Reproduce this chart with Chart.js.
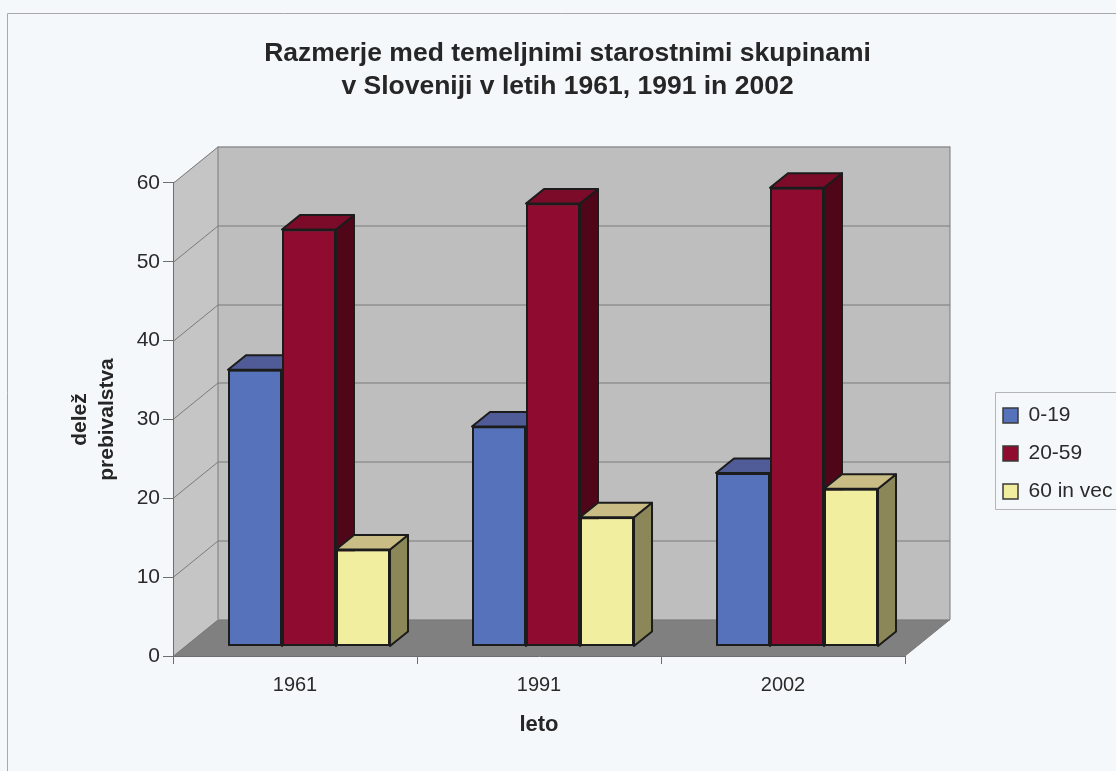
<!DOCTYPE html>
<html><head><meta charset="utf-8">
<script src="https://cdn.jsdelivr.net/npm/chart.js@4"></script>
<style>html,body{margin:0;padding:0;background:#f5f8fa}canvas{display:block}</style>
</head><body>
<canvas id="c" width="1116" height="771" style="width:1116px;height:771px"></canvas>
<script>
const categories = ['1961', '1991', '2002'];
const young = [35.1, 27.9, 22.0];
const working = [52.9, 56.2, 58.2];
const old = [12.3, 16.4, 20.0];
const seriesNames = ['0-19', '20-59', '60 in vec'];
const titleLines = ['Razmerje med temeljnimi starostnimi skupinami', 'v Sloveniji v letih 1961, 1991 in 2002'];
const yTicks = [0, 10, 20, 30, 40, 50, 60];

const FONT = '"Liberation Sans", Arial, sans-serif';
const TEXT = '#2a2a2a';
const AXIS = '#6e6e6e';
const WALL = {dx: 45, dy: 36.5};
const BAR = {shiftX: 14, shiftY: 9.5, dx: 18, dy: 14.5};
const faces = [
  {front: '#5572bb', top: '#4f5c98', side: '#2c3a70'},
  {front: '#8f0b2f', top: '#7c0a29', side: '#4f0619'},
  {front: '#f1ee9f', top: '#c9bd85', side: '#8b8759'}
];

function poly(ctx, pts, fill, stroke, lw) {
  ctx.beginPath();
  pts.forEach((p, i) => i ? ctx.lineTo(p[0], p[1]) : ctx.moveTo(p[0], p[1]));
  ctx.closePath();
  if (fill) { ctx.fillStyle = fill; ctx.fill(); }
  if (stroke) { ctx.strokeStyle = stroke; ctx.lineWidth = lw; ctx.lineJoin = 'round'; ctx.stroke(); }
}

const scene = {
  id: 'scene',
  afterLayout(chart) {
    const t = chart.titleBlock;
    t.left = 0; t.right = 1135; t.top = 37; t.bottom = 103;
    const l = chart.legend;
    l.left = 986; l.right = 1116; l.top = 388; l.bottom = 600;
  },
  beforeDraw(chart) {
    const {ctx, chartArea: a, scales: {y}} = chart;
    const d = WALL;
    ctx.save();
    ctx.fillStyle = '#f5f8fa';
    ctx.fillRect(0, 0, chart.width, chart.height);
    ctx.strokeStyle = '#a9a9a9'; ctx.lineWidth = 1;
    ctx.beginPath(); ctx.moveTo(7.5, 771); ctx.lineTo(7.5, 13.5); ctx.lineTo(1116, 13.5); ctx.stroke();
    const top = y.getPixelForValue(60), bot = y.getPixelForValue(0);
    // back wall, side wall, floor
    poly(ctx, [[a.left + d.dx, top - d.dy], [a.right + d.dx, top - d.dy], [a.right + d.dx, bot - d.dy], [a.left + d.dx, bot - d.dy]], '#bebebe');
    poly(ctx, [[a.left, top], [a.left + d.dx, top - d.dy], [a.left + d.dx, bot - d.dy], [a.left, bot]], '#c5c5c5');
    poly(ctx, [[a.left, bot], [a.left + d.dx, bot - d.dy], [a.right + d.dx, bot - d.dy], [a.right, bot]], '#808080');
    ctx.strokeStyle = '#7b7b7b'; ctx.lineWidth = 1;
    y.ticks.forEach(t => {
      const py = Math.round(y.getPixelForValue(t.value)) + 0.5;
      ctx.beginPath();
      ctx.moveTo(a.left, py);
      ctx.lineTo(a.left + d.dx, py - d.dy);
      ctx.lineTo(a.right + d.dx, py - d.dy);
      ctx.stroke();
    });
    ctx.beginPath();
    ctx.moveTo(a.left + d.dx, top - d.dy); ctx.lineTo(a.left + d.dx, bot - d.dy);
    ctx.moveTo(a.right + d.dx, top - d.dy); ctx.lineTo(a.right + d.dx, bot - d.dy);
    ctx.lineTo(a.right, bot);
    ctx.stroke();
    // legend frame
    ctx.strokeStyle = '#b5b5b5';
    ctx.beginPath(); ctx.moveTo(1116, 392.5); ctx.lineTo(995.5, 392.5); ctx.lineTo(995.5, 509.5); ctx.lineTo(1116, 509.5); ctx.stroke();
    ctx.restore();
  },
  beforeDatasetDraw(chart) {
    chart.ctx.save();
    chart.ctx.translate(BAR.shiftX, -BAR.shiftY);
  },
  afterDatasetDraw(chart) {
    chart.ctx.restore();
  },
  afterDatasetsDraw(chart) {
    // The library paints the last series first; repaint left to right so each
    // front face hides the side of the bar to its left, as a 3D column chart does.
    const ctx = chart.ctx, edge = '#1c1c1c';
    ctx.save();
    ctx.translate(BAR.shiftX, -BAR.shiftY);
    chart.getSortedVisibleDatasetMetas().forEach(meta => {
      const f = faces[meta.index];
      meta.data.forEach(el => {
        const p = el.getProps(['x', 'y', 'base', 'width'], true);
        const l = p.x - p.width / 2, r = p.x + p.width / 2;
        poly(ctx, [[r, p.y], [r + BAR.dx, p.y - BAR.dy], [r + BAR.dx, p.base - BAR.dy], [r, p.base]], f.side, edge, 2);
        poly(ctx, [[l, p.y], [l + BAR.dx, p.y - BAR.dy], [r + BAR.dx, p.y - BAR.dy], [r, p.y]], f.top, edge, 2);
        el.draw(ctx);
      });
    });
    ctx.restore();
  }
};

new Chart(document.getElementById('c'), {
  type: 'bar',
  plugins: [scene],
  data: {
    labels: categories,
    datasets: [young, working, old].map((values, i) => ({
      label: seriesNames[i],
      data: values,
      backgroundColor: faces[i].front,
      borderColor: '#1c1c1c',
      borderWidth: 2,
      borderSkipped: false,
      barPercentage: 1,
      categoryPercentage: 0.664,
      clip: false
    }))
  },
  options: {
    responsive: false,
    animation: false,
    events: [],
    layout: {padding: {left: 67, right: 211, top: 0, bottom: 0}},
    plugins: {
      tooltip: {enabled: false},
      title: {
        display: true,
        text: titleLines,
        color: '#262626',
        font: {family: FONT, size: 26.5, weight: 'bold', lineHeight: 1.245},
        padding: {top: 0, bottom: 117}
      },
      legend: {
        position: 'chartArea',
        align: 'start',
        labels: {
          boxWidth: 15, boxHeight: 15, padding: 17,
          color: TEXT,
          font: {family: FONT, size: 21},
          generateLabels(chart) {
            return chart.data.datasets.map((ds, i) => ({
              text: ds.label, fillStyle: ds.backgroundColor, strokeStyle: '#3a3a3a',
              lineWidth: 1.5, datasetIndex: i, fontColor: TEXT
            }));
          }
        }
      }
    },
    scales: {
      x: {
        grid: {drawOnChartArea: false, tickLength: 8, color: AXIS, offset: true},
        border: {color: AXIS},
        ticks: {color: TEXT, padding: 9, font: {family: FONT, size: 20}, maxRotation: 0},
        title: {display: true, text: 'leto', color: '#262626', font: {family: FONT, size: 22, weight: 'bold'}, padding: {top: 0, bottom: 33}},
        afterFit(s) { s.height = 115; }
      },
      y: {
        min: 0, max: 60,
        afterBuildTicks(s) { s.ticks = yTicks.map(v => ({value: v})); },
        grid: {drawOnChartArea: false, tickLength: 10, color: AXIS},
        border: {color: AXIS},
        ticks: {color: TEXT, padding: 3, font: {family: FONT, size: 21}},
        title: {display: true, text: ['delež', 'prebivalstva'], color: '#262626', font: {family: FONT, size: 21, weight: 'bold', lineHeight: 1.29}, padding: 0},
        afterFit(s) { s.width = 106; }
      }
    }
  }
});
</script>
</body></html>
